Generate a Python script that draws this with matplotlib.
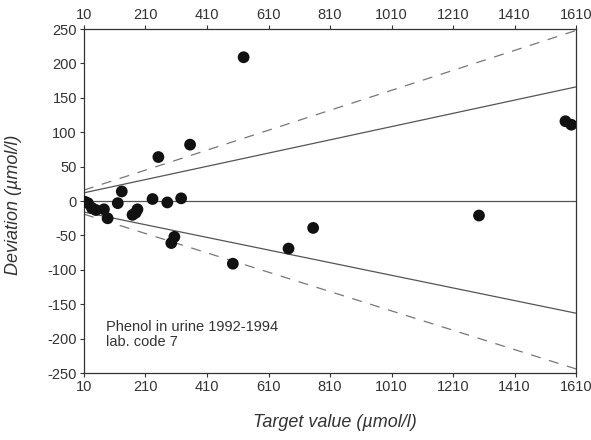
import numpy as np
import matplotlib
matplotlib.use("Agg")
import matplotlib.pyplot as plt

plt.rcParams['font.family'] = ['Liberation Sans', 'DejaVu Sans']
plt.rcParams['axes.unicode_minus'] = False

# measured results: target value vs deviation
target = [13, 23, 36, 49, 75, 87, 120, 133, 168, 178, 184, 233, 252, 281,
          294, 304, 326, 355, 494, 529, 675, 755, 1294, 1575, 1594]
deviation = [-1, -3, -10, -13, -12, -25, -3, 14, -20, -17, -12, 3, 64, -2,
             -61, -52, 4, 82, -91, 209, -69, -39, -21, 116, 111]

# limit lines (end points)
line_x = [10, 1610]
centre = [0, 0]
upper_solid = [12, 166]
lower_solid = [-16, -163]
upper_dash = [16, 248]
lower_dash = [-19, -244]

xticks = [10, 210, 410, 610, 810, 1010, 1210, 1410, 1610]
yticks = [-250, -200, -150, -100, -50, 0, 50, 100, 150, 200, 250]

fig = plt.figure(figsize=(5.91, 4.40), dpi=100)
ax = fig.add_axes([0.142, 0.152, 0.833, 0.782])

ax.plot(line_x, centre, color='#555555', lw=0.9)
ax.plot(line_x, upper_solid, color='#555555', lw=0.9)
ax.plot(line_x, lower_solid, color='#555555', lw=0.9)
ax.plot(line_x, upper_dash, color='#777777', lw=0.9, dashes=(8, 7))
ax.plot(line_x, lower_dash, color='#777777', lw=0.9, dashes=(8, 7))

ax.scatter(target, deviation, s=72, color='#111111', zorder=3, edgecolors='none')

ax.set_xlim(10, 1610)
ax.set_ylim(-250, 250)
ax.set_xticks(xticks)
ax.set_yticks(yticks)
ax.tick_params(axis='both', labelsize=10.5, colors='#333333', length=3, width=0.8)
ax.tick_params(axis='x', top=True, labeltop=True, direction='out', pad=2)
ax.tick_params(axis='y', direction='out', pad=2)
for s in ax.spines.values():
    s.set_color('#333333')
    s.set_linewidth(0.9)

ax.text(0.045, 0.155, 'Phenol in urine 1992-1994\nlab. code 7', transform=ax.transAxes,
        fontsize=10.5, color='#333333', va='top', linespacing=1.15)

fig.text(0.567, 0.04, 'Target value (\u00b5mol/l)', ha='center', va='center',
         fontsize=13, style='italic', color='#333333')
fig.text(0.022, 0.535, 'Deviation (\u00b5mol/l)', ha='center', va='center',
         fontsize=13, style='italic', color='#333333', rotation=90)

fig.savefig('out.png', dpi=100)
